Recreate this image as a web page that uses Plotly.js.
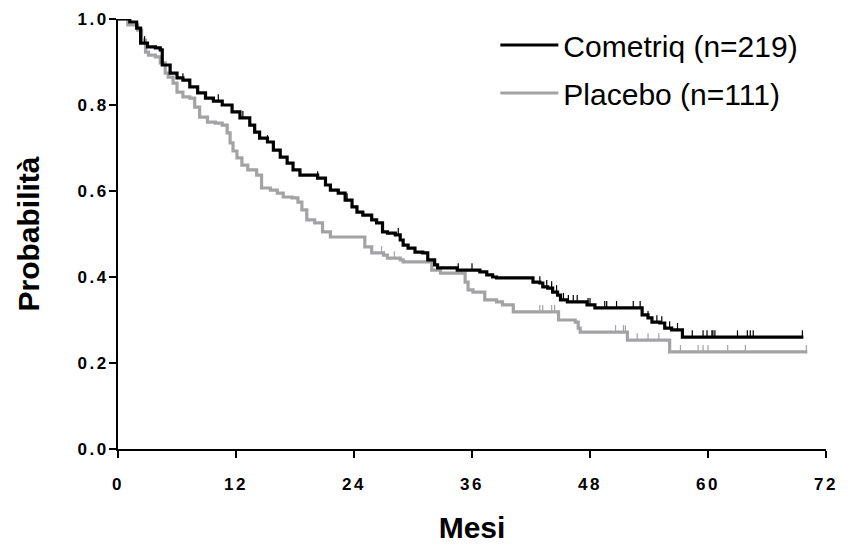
<!DOCTYPE html>
<html>
<head>
<meta charset="utf-8">
<script src="https://cdn.plot.ly/plotly-3.0.1.min.js"></script>
<style>html,body{margin:0;padding:0;background:#fff;}#chart{width:853px;height:552px;}</style>
</head>
<body>
<div id="chart"></div>
<script>
// Cometriq (n=219) step curve: event times (months) and survival probability
const cometriqTime = [0, 1.2, 1.9, 2.3, 3.0, 3.8, 4.3, 4.5, 5.3, 6.0, 6.6, 7.3, 8.1, 8.9, 9.7, 10.6, 11.6, 12.4, 13.4, 13.9, 14.4, 15.2, 15.8, 16.5, 17.2, 17.8, 18.5, 20.3, 21.1, 21.6, 22.4, 23.1, 23.8, 24.3, 24.9, 25.8, 26.3, 26.9, 27.4, 28.2, 28.7, 29.0, 29.5, 30.2, 31.0, 31.5, 32.2, 32.5, 34.5, 36.8, 37.5, 38.1, 38.5, 42.2, 42.9, 43.2, 43.7, 44.2, 44.7, 45.0, 45.7, 47.7, 48.5, 53.3, 53.9, 54.3, 55.1, 55.6, 56.3, 57.4, 69.7];
const cometriqSurv = [1.0, 0.993, 0.979, 0.944, 0.935, 0.933, 0.928, 0.893, 0.874, 0.863, 0.858, 0.842, 0.828, 0.816, 0.809, 0.800, 0.784, 0.770, 0.753, 0.737, 0.723, 0.714, 0.695, 0.679, 0.665, 0.649, 0.637, 0.630, 0.614, 0.602, 0.595, 0.579, 0.563, 0.551, 0.544, 0.533, 0.526, 0.505, 0.502, 0.498, 0.486, 0.474, 0.467, 0.458, 0.456, 0.440, 0.428, 0.421, 0.416, 0.412, 0.405, 0.400, 0.398, 0.388, 0.386, 0.377, 0.374, 0.365, 0.358, 0.347, 0.342, 0.335, 0.328, 0.312, 0.305, 0.295, 0.293, 0.281, 0.277, 0.260, 0.260];
const cometriqCensor = [2.7, 6.6, 10.2, 12.7, 15.2, 20.3, 23.3, 28.5, 34.6, 36.0, 42.9, 43.6, 44.1, 44.6, 45.3, 45.8, 46.3, 46.7, 47.8, 48.0, 49.5, 49.7, 50.7, 52.4, 53.1, 53.3, 53.9, 54.8, 55.3, 56.1, 56.9, 58.4, 59.5, 59.9, 60.4, 60.5, 60.7, 63.0, 64.0, 64.3, 64.6, 69.6];

// Placebo (n=111)
const placeboTime = [0, 1.0, 2.0, 2.4, 2.8, 3.1, 3.8, 4.3, 4.8, 5.1, 5.6, 6.0, 6.6, 7.3, 7.8, 8.3, 9.1, 9.9, 10.6, 11.1, 11.4, 11.7, 12.1, 12.6, 13.2, 14.1, 14.6, 15.5, 16.2, 16.8, 17.7, 18.3, 18.7, 19.2, 20.0, 20.8, 21.6, 25.1, 25.8, 27.0, 27.4, 28.7, 29.0, 31.9, 32.8, 35.3, 35.6, 36.1, 37.3, 38.5, 39.1, 40.2, 44.8, 46.5, 46.8, 47.0, 51.8, 56.1, 70.1];
const placeboSurv = [1.0, 0.986, 0.974, 0.951, 0.923, 0.916, 0.912, 0.898, 0.874, 0.865, 0.851, 0.830, 0.819, 0.816, 0.795, 0.772, 0.760, 0.758, 0.753, 0.735, 0.712, 0.693, 0.677, 0.660, 0.649, 0.637, 0.607, 0.602, 0.595, 0.586, 0.584, 0.574, 0.556, 0.533, 0.526, 0.505, 0.493, 0.470, 0.456, 0.451, 0.444, 0.440, 0.435, 0.416, 0.409, 0.388, 0.370, 0.365, 0.347, 0.342, 0.335, 0.319, 0.300, 0.295, 0.281, 0.272, 0.253, 0.226, 0.226];
const placeboCensor = [26.8, 28.1, 42.9, 43.2, 44.1, 44.4, 50.6, 51.4, 51.6, 52.8, 53.9, 55.0, 57.2, 59.0, 59.5, 60.0, 62.0, 63.8, 70.0];

const seriesNames = ['Cometriq (n=219)', 'Placebo (n=111)'];
const xTickVals = [0, 12, 24, 36, 48, 60, 72];
const xTickText = ['0', '12', '24', '36', '48', '60', '72'];
const yTickVals = [0, 0.2, 0.4, 0.6, 0.8, 1.0];
const yTickText = ['0.0', '0.2', '0.4', '0.6', '0.8', '1.0'];

function stepValue(times, surv, t) {
  let v = surv[0];
  for (let i = 0; i < times.length; i++) { if (times[i] <= t) v = surv[i]; else break; }
  return v;
}
const spaced = s => '<span style="letter-spacing:2.5px">' + s + '</span>';

const FONT = 'Liberation Sans, Arial, sans-serif';
const BLACK = '#000000';
const GREY = '#a3a3a6';

function curve(times, surv, name, color, group, rank) {
  return { x: times, y: surv, name: name, legendgroup: group, legendrank: rank, type: 'scatter', mode: 'lines',
           line: { shape: 'hv', color: color, width: 3.2 }, cliponaxis: false, hoverinfo: 'skip' };
}
function censor(times, surv, cens, color, group) {
  return { x: cens, y: cens.map(t => stepValue(times, surv, t)), legendgroup: group, type: 'scatter', mode: 'markers',
           marker: { size: 1, color: 'rgba(0,0,0,0)' }, showlegend: false, hoverinfo: 'skip', cliponaxis: false,
           error_y: { type: 'constant', value: 0.016, valueminus: 0, symmetric: false, width: 0, thickness: 1.2, color: color } };
}

const data = [
  curve(placeboTime, placeboSurv, seriesNames[1], GREY, 'p', 2),
  censor(placeboTime, placeboSurv, placeboCensor, GREY, 'p'),
  curve(cometriqTime, cometriqSurv, seriesNames[0], BLACK, 'c', 1),
  censor(cometriqTime, cometriqSurv, cometriqCensor, BLACK, 'c')
];

const layout = {
  width: 853, height: 552,
  margin: { l: 118, r: 27, t: 19, b: 103 },
  paper_bgcolor: '#fff', plot_bgcolor: '#fff',
  font: { family: FONT, color: '#000' },
  showlegend: true,
  legend: { x: 0.533, y: 1.0, xanchor: 'left', yanchor: 'top', traceorder: 'grouped', tracegroupgap: 6,
            font: { size: 30, family: FONT, color: '#000' }, bgcolor: 'rgba(0,0,0,0)', itemwidth: 58 },
  xaxis: {
    range: [0, 72], tickmode: 'array', tickvals: xTickVals, ticktext: xTickText.map(spaced),
    ticks: 'outside', ticklen: 7, tickwidth: 2, tickcolor: '#000',
    showline: true, linewidth: 2, linecolor: '#000', showgrid: false, zeroline: false,
    tickfont: { size: 17, family: FONT, weight: 'bold', color: '#000' }, ticklabelstandoff: 12,
    title: { text: 'Mesi', font: { size: 30, family: FONT, weight: 'bold', color: '#000' }, standoff: 24 },
    fixedrange: true
  },
  yaxis: {
    range: [0, 1], tickmode: 'array', tickvals: yTickVals, ticktext: yTickText.map(spaced),
    ticks: 'outside', ticklen: 7, tickwidth: 2, tickcolor: '#000',
    showline: true, linewidth: 2, linecolor: '#000', showgrid: false, zeroline: false,
    tickfont: { size: 17, family: FONT, weight: 'bold', color: '#000' }, ticklabelstandoff: -3,
    title: { text: 'Probabilità', font: { size: 30, family: FONT, weight: 'bold', color: '#000' }, standoff: 29 },
    fixedrange: true
  }
};

Plotly.newPlot('chart', data, layout, { displayModeBar: false, staticPlot: true });
</script>
</body>
</html>
